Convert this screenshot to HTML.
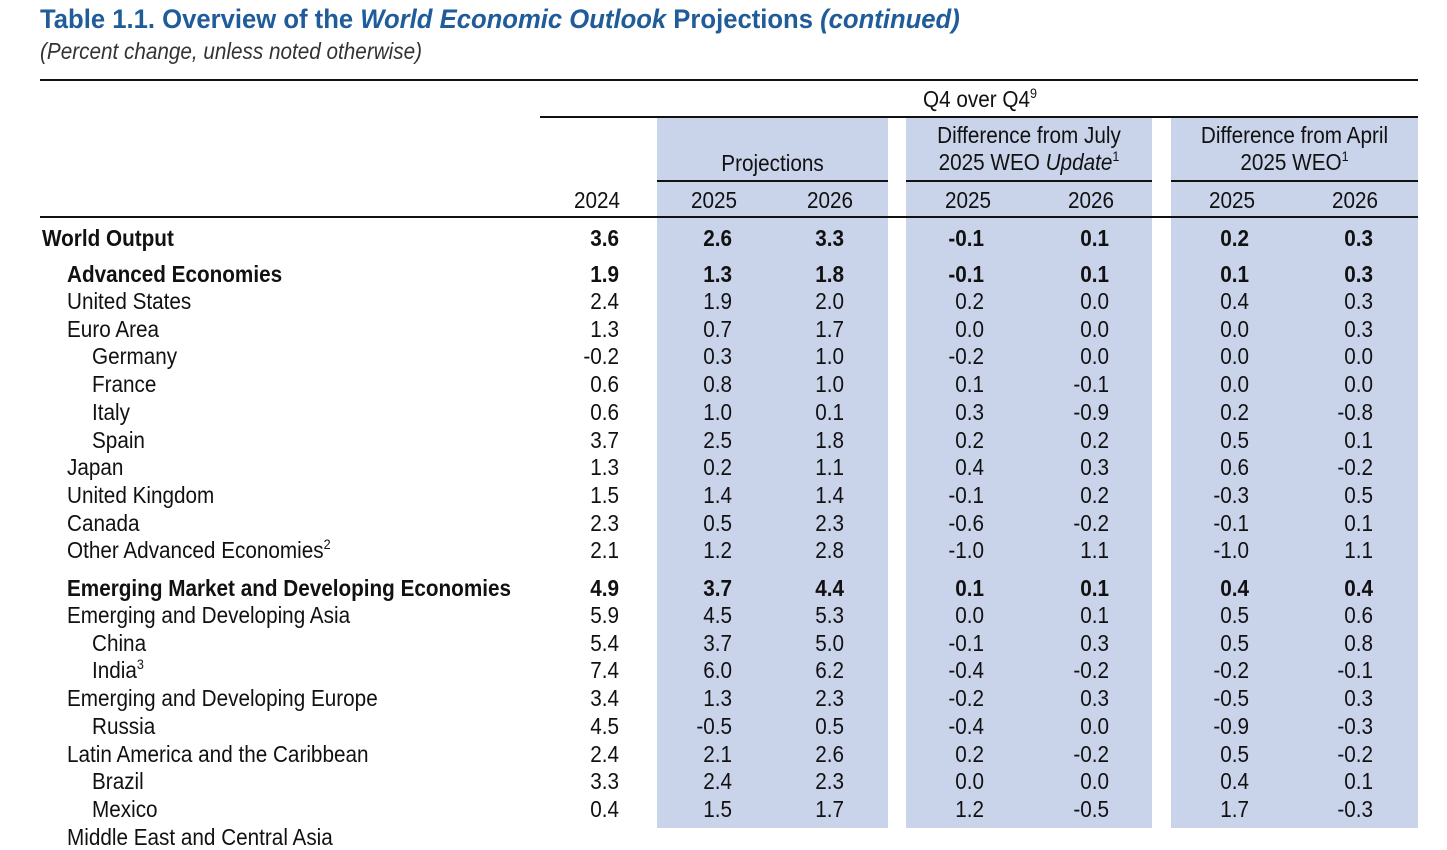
<!DOCTYPE html>
<html><head><meta charset="utf-8">
<style>
*{margin:0;padding:0;box-sizing:border-box}
body{width:1447px;height:828px;overflow:hidden;background:#fff;position:relative;font-family:"Liberation Sans Narrow","Liberation Sans",sans-serif;color:#111}
.a{position:absolute;white-space:nowrap}
.shade{position:absolute;background:#c9d3ea;top:118px;height:710px}
.rule{position:absolute;background:#111;height:2px}
.num{position:absolute;font-size:23px;text-align:right;width:100px;line-height:26px;transform:scaleX(0.9);transform-origin:right center}
.lbl{position:absolute;font-size:23px;line-height:26px;white-space:nowrap;transform:scaleX(0.9);transform-origin:left center}
.b{font-weight:bold}
.h{font-size:23px;line-height:27px;text-align:center;position:absolute;white-space:nowrap;transform:scaleX(0.9)}
sup{font-size:14px;line-height:0;vertical-align:9px}
</style></head><body>
<div class="a b" style="left:40px;top:4px;font-size:27px;color:#1f5c99;transform:scaleX(0.95);transform-origin:left">Table 1.1. Overview of the <i>World Economic Outlook</i> Projections <i>(continued)</i></div>
<div class="a" style="left:40px;top:38px;font-size:23px;font-style:italic;color:#333;transform:scaleX(0.9);transform-origin:left">(Percent change, unless noted otherwise)</div>

<div class="shade" style="left:657px;width:231px"></div>
<div class="shade" style="left:906px;width:246px"></div>
<div class="shade" style="left:1171px;width:247px"></div>

<div class="rule" style="left:40px;width:1378px;top:79px"></div>
<div class="h" style="left:880px;width:200px;top:86px">Q4 over Q4<sup>9</sup></div>
<div class="rule" style="left:540px;width:878px;top:116px"></div>
<div class="h" style="left:657px;width:231px;top:150px">Projections</div>
<div class="h" style="left:906px;width:246px;top:122px">Difference from July<br>2025 WEO <i>Update</i><sup>1</sup></div>
<div class="h" style="left:1171px;width:247px;top:122px">Difference from April<br>2025 WEO<sup>1</sup></div>
<div class="rule" style="left:657px;width:231px;top:180px"></div>
<div class="rule" style="left:906px;width:246px;top:180px"></div>
<div class="rule" style="left:1171px;width:247px;top:180px"></div>
<div class="rule" style="left:40px;width:1378px;top:216px"></div>
<div id="tbl"></div>
<script>
const years = ["2024","2025","2026","2025","2026","2025","2026"];
const labels = ["World Output","Advanced Economies","United States","Euro Area","Germany","France","Italy","Spain","Japan","United Kingdom","Canada","Other Advanced Economies","Emerging Market and Developing Economies","Emerging and Developing Asia","China","India","Emerging and Developing Europe","Russia","Latin America and the Caribbean","Brazil","Mexico","Middle East and Central Asia"];
const sups = ["","","","","","","","","","","","2","","","","3","","","","","",""];
const indent = [0,1,1,1,2,2,2,2,1,1,1,1,1,1,2,2,1,2,1,2,2,1];
const bold = [1,1,0,0,0,0,0,0,0,0,0,0,1,0,0,0,0,0,0,0,0,0];
const v2024 = ["3.6","1.9","2.4","1.3","-0.2","0.6","0.6","3.7","1.3","1.5","2.3","2.1","4.9","5.9","5.4","7.4","3.4","4.5","2.4","3.3","0.4",""];
const v2025 = ["2.6","1.3","1.9","0.7","0.3","0.8","1.0","2.5","0.2","1.4","0.5","1.2","3.7","4.5","3.7","6.0","1.3","-0.5","2.1","2.4","1.5",""];
const v2026 = ["3.3","1.8","2.0","1.7","1.0","1.0","0.1","1.8","1.1","1.4","2.3","2.8","4.4","5.3","5.0","6.2","2.3","0.5","2.6","2.3","1.7",""];
const jul25 = ["-0.1","-0.1","0.2","0.0","-0.2","0.1","0.3","0.2","0.4","-0.1","-0.6","-1.0","0.1","0.0","-0.1","-0.4","-0.2","-0.4","0.2","0.0","1.2",""];
const jul26 = ["0.1","0.1","0.0","0.0","0.0","-0.1","-0.9","0.2","0.3","0.2","-0.2","1.1","0.1","0.1","0.3","-0.2","0.3","0.0","-0.2","0.0","-0.5",""];
const apr25 = ["0.2","0.1","0.4","0.0","0.0","0.0","0.2","0.5","0.6","-0.3","-0.1","-1.0","0.4","0.5","0.5","-0.2","-0.5","-0.9","0.5","0.4","1.7",""];
const apr26 = ["0.3","0.3","0.3","0.3","0.0","0.0","-0.8","0.1","-0.2","0.5","0.1","1.1","0.4","0.6","0.8","-0.1","0.3","-0.3","-0.2","0.1","-0.3",""];
const series = [v2024,v2025,v2026,jul25,jul26,apr25,apr26];
const colRight = [619,732,844,984,1109,1249,1373];
const colCenter = [597,714,830,968,1091,1232,1355];
const rowY = i => i===0?225 : i===1?261 : i<12? 288+(i-2)*27.7 : i===12?575 : 602+(i-13)*27.7;
const tbl = document.getElementById('tbl');
years.forEach((y,j)=>{
  const d=document.createElement('div');
  d.className='h';
  
  
  d.style.left=(colCenter[j]-50)+'px';d.style.width='100px';d.style.top='187px';
  d.textContent=y;tbl.appendChild(d);
});
labels.forEach((l,i)=>{
  const d=document.createElement('div');
  d.className='lbl'+(bold[i]?' b':'');
  
  
  d.style.left=(42+indent[i]*25)+'px';d.style.top=rowY(i)+'px';
  d.innerHTML=l+(sups[i]?'<sup>'+sups[i]+'</sup>':'');
  tbl.appendChild(d);
  series.forEach((s,j)=>{
    if(!s[i])return;
    const n=document.createElement('div');
    n.className='num'+(bold[i]?' b':'');
    
    
    n.style.left=(colRight[j]-100)+'px';n.style.top=rowY(i)+'px';
    n.textContent=s[i];tbl.appendChild(n);
  });
});
</script>
</body></html>
